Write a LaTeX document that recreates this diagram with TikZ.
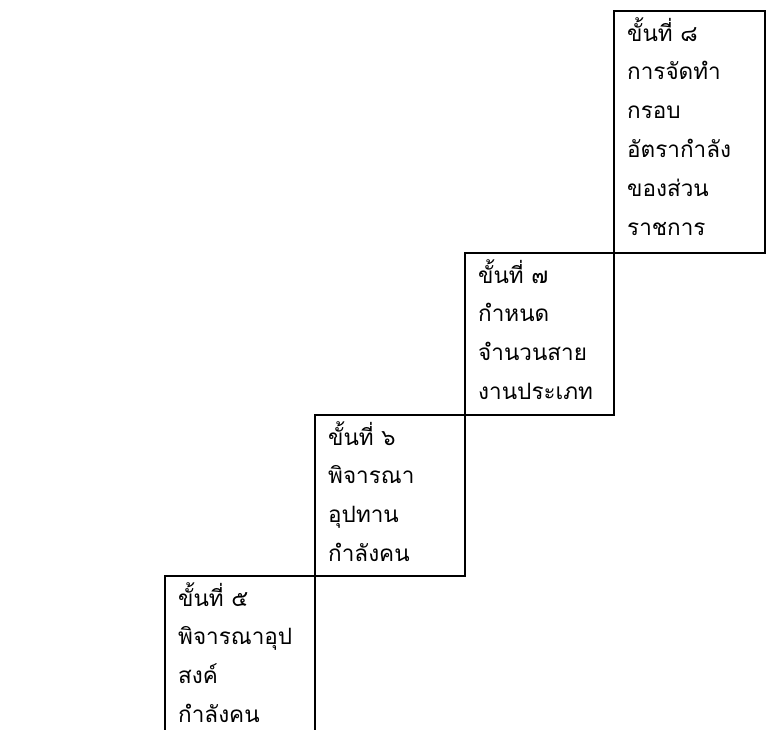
\documentclass[tikz,border=0pt]{standalone}
\usepackage{fontspec}
\newfontfamily\thaifont[Script=Thai]{Loma}
\begin{document}
\begin{tikzpicture}[x=1pt,y=1pt,
  stepbox/.style={draw=black, line width=2pt, minimum width=150pt, inner sep=0pt, anchor=north west},
  steptext/.style={anchor=north west, inner sep=0pt, align=left, text width=145pt,
     font=\thaifont\fontsize{22.5pt}{38.8pt}\selectfont}]
\useasboundingbox (0,0) rectangle (766,-729);
\clip (0,0) rectangle (766,-729);
\node[stepbox, minimum width=151pt, minimum height=242pt] (b8) at (613,-10) {};
\node[stepbox, minimum width=149pt, minimum height=162pt] (b7) at (464,-252) {};
\node[stepbox, minimum height=161pt] (b6) at (314,-414) {};
\node[stepbox, minimum height=175pt] (b5) at (164,-575) {};
\node[steptext] (t8) at ([xshift=14pt,yshift=-7pt]b8.north west) {ขั้นที่ ๘\\การจัดทำ\\กรอบ\\อัตรากำลัง\\ของส่วน\\ราชการ};
\node[steptext] (t7) at ([xshift=14pt,yshift=-7pt]b7.north west) {ขั้นที่ ๗\\กำหนด\\จำนวนสาย\\งานประเภท};
\node[steptext] (t6) at ([xshift=14pt,yshift=-7pt]b6.north west) {ขั้นที่ ๖\\พิจารณา\\อุปทาน\\กำลังคน};
\node[steptext] (t5) at ([xshift=14pt,yshift=-7pt]b5.north west) {ขั้นที่ ๕\\พิจารณาอุป\\สงค์\\กำลังคน};
\end{tikzpicture}
\end{document}
